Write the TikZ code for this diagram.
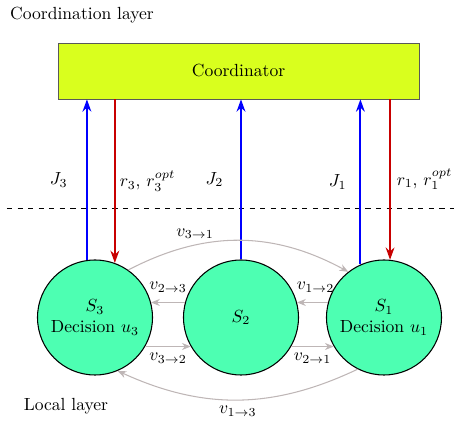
\documentclass[tikz,border=0pt]{standalone}
\usepackage{tikz}
\usetikzlibrary{arrows.meta}
\definecolor{coordyellow}{RGB}{217,255,30}
\definecolor{agentgreen}{RGB}{77,255,178}
\definecolor{msggray}{RGB}{190,182,182}
\definecolor{darkred}{RGB}{200,0,0}

\begin{document}
\begin{tikzpicture}[
    agent/.style = {circle, draw, semithick, fill = agentgreen,
      minimum size = 2.3cm, align = center, inner sep = 0},
    up/.style = {-{Stealth[length = 7pt, width = 5pt]}, line width = 1.1pt, blue},
    down/.style = {-{Stealth[length = 7pt, width = 5pt]}, line width = 1.1pt, darkred},
    msg/.style = {-{Stealth[length = 5pt, width = 4pt]}, semithick, msggray},
    lbl/.style = {text = black}]
    \useasboundingbox (0,0) rectangle (9.08,8.48);
    \node (clayer) at (1.64,8.18) {Coordination layer};
    \node (llayer) at (1.32,0.36) {Local layer};
    \node [draw = black!65, fill = coordyellow, minimum width = 7.22cm,
      minimum height = 1.12cm] (coord) at (4.77,7.06) {Coordinator};
    \node [agent] (S3) at (1.90,2.13) {$S_3$\\Decision $u_3$};
    \node [agent] (S2) at (4.82,2.13) {$S_2$};
    \node [agent] (S1) at (7.68,2.13) {$S_1$\\Decision $u_1$};
    \coordinate (dashL) at (0.14,4.32);
    \coordinate (dashR) at (9.08,4.32);
    \draw [dashed] (dashL) -- (dashR);
    % local costs up, references down
    \draw [up] (S3.98) -- (S3.98 |- coord.south)
    node [lbl, pos = .5, left = .25cm] {$J_3$};
    \draw [up] (S2.90) -- (S2.90 |- coord.south)
    node [lbl, pos = .5, left = .22cm] {$J_2$};
    \draw [up] (S1.114) -- (S1.114 |- coord.south)
    node [lbl, pos = .5, left = .14cm] {$J_1$};
    \draw [down] (S3.70 |- coord.south) -- (S3.70)
    node [lbl, pos = .5, right = -1pt] {$r_3$, $r_3^{opt}$};
    \draw [down] (S1.84 |- coord.south) -- (S1.84)
    node [lbl, pos = .5, right = 0pt] {$r_1$, $r_1^{opt}$};
    % exchanged messages
    \draw [msg] (S2.165) -- (S3.15) node [lbl, midway, above = 2pt] {$v_{2\to3}$};
    \draw [msg] (S1.165) -- (S2.15) node [lbl, pos = .4, above = 2pt] {$v_{1\to2}$};
    \draw [msg] (S3.-30) -- (S2.210) node [lbl, midway, below] {$v_{3\to2}$};
    \draw [msg] (S2.-30) -- (S1.210) node [lbl, midway, below] {$v_{2\to1}$};
    \draw [msg] (S3.55) to [bend left = 28]
    node [lbl, pos = .3, above] {$v_{3\to1}$} (S1.128);
    \draw [msg] (S1.243) to [bend left = 25]
    node [lbl, below] {$v_{1\to3}$} (S3.293);
\end{tikzpicture}
\end{document}
